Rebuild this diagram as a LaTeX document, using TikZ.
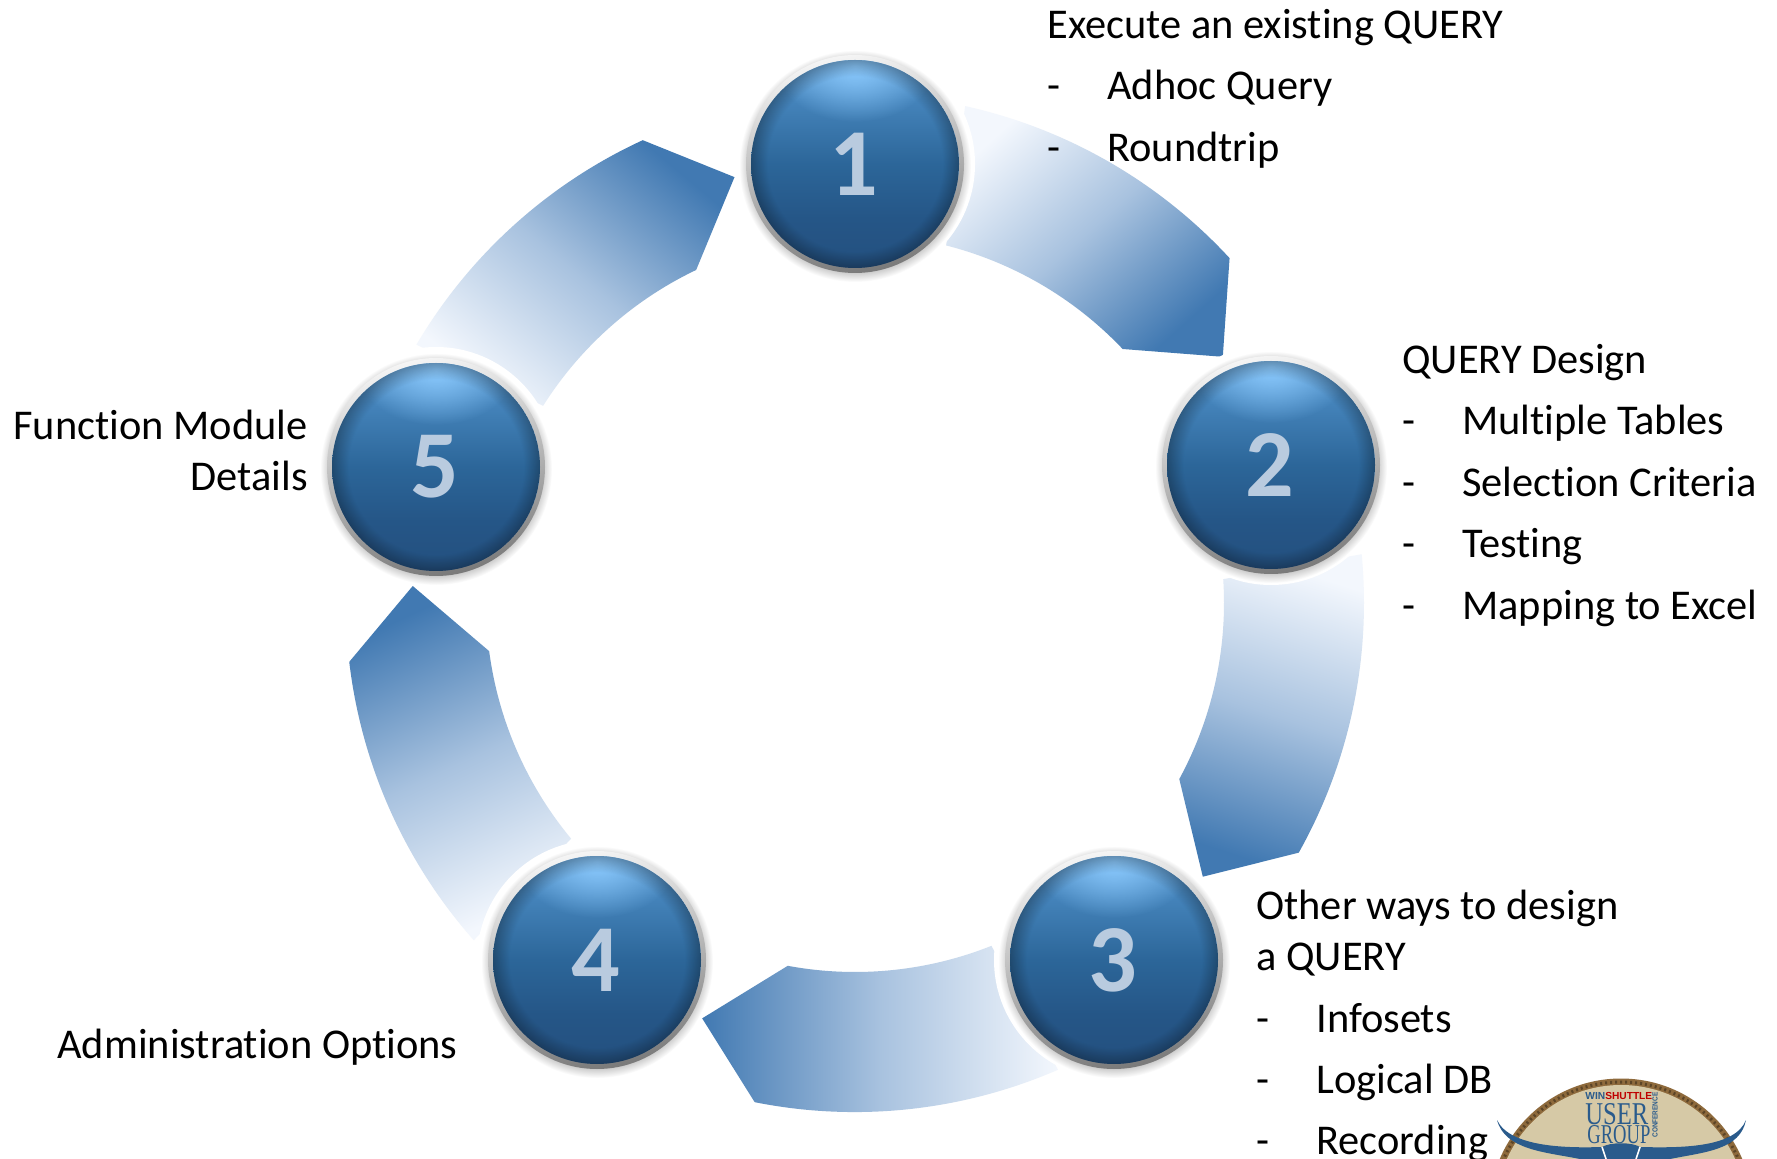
\documentclass[tikz,border=0pt]{standalone}
\usepackage{fontspec}
\setmainfont[Ligatures=NoCommon]{Carlito}
\newfontfamily\logoserif{Liberation Serif}
\newfontfamily\logosans{Liberation Sans}
\usetikzlibrary{fadings,shadings}
\definecolor{arrowdark}{HTML}{4179B2}
\definecolor{arrowmid}{HTML}{A8C2DF}
\definecolor{arrowlight}{HTML}{F3F7FD}
\definecolor{digit}{HTML}{B9CBDF}
\definecolor{logoblue}{HTML}{2A5B8C}
\definecolor{logotan}{HTML}{D6C9A6}
\definecolor{rope}{HTML}{8E6A3C}
\definecolor{ba}{HTML}{24507F}
\definecolor{bb}{HTML}{255687}
\definecolor{bc}{HTML}{2C6699}
\definecolor{bd}{HTML}{4483BA}
\definecolor{be}{HTML}{5C9BD2}
\definecolor{highlight}{HTML}{8CCBFF}
\definecolor{ra}{HTML}{7A7A7A}
\definecolor{rb}{HTML}{B8B8B8}
\definecolor{rc}{HTML}{F4F4F4}
\definecolor{glowc}{HTML}{9A9A9A}
\pgfdeclareverticalshading{ballshade}{100bp}{
  color(0bp)=(ba);
  color(25bp)=(ba);
  color(37bp)=(bb);
  color(50bp)=(bc);
  color(65bp)=(bd);
  color(75bp)=(be);
  color(100bp)=(be)}
\pgfdeclareverticalshading{rimshade}{100bp}{
  color(0bp)=(ra);
  color(25bp)=(ra);
  color(50bp)=(rb);
  color(75bp)=(rc);
  color(100bp)=(rc)}
\pgfdeclareradialshading{glowshade}{\pgfpoint{0bp}{0bp}}{
  color(0bp)=(glowc);
  color(21bp)=(glowc);
  color(25bp)=(white);
  color(50bp)=(white)}
\pgfdeclareradialshading{edgeshade}{\pgfpoint{0bp}{0bp}}{
  color(0bp)=(pgftransparent!100);
  color(21bp)=(pgftransparent!100);
  color(25bp)=(pgftransparent!72);
  color(50bp)=(pgftransparent!72)}
\pgfdeclarefading{edgefade}{\pgfuseshading{edgeshade}}
\tikzfading[name=hlfade, inner color=transparent!0, outer color=transparent!100]
\tikzset{
  x=0.5pt, y=0.5pt,
  bodytext/.style={anchor=base west, inner sep=0pt, font=\fontsize{21.2}{25}\selectfont, text=black},
  bodyright/.style={bodytext, anchor=base east},
  halo/.style={circle, minimum size=120pt, inner sep=0pt, fill=white},
  ballshadow/.style={circle, minimum size=116pt, inner sep=0pt, shading=glowshade},
  rim/.style={circle, minimum size=109pt, inner sep=0pt, shading=rimshade, shading angle=12},
  ball/.style={circle, minimum size=104pt, inner sep=0pt, shading=ballshade},
  numeral/.style={inner sep=0pt, font=\fontsize{48}{50}\bfseries\selectfont, text=digit},
  ringarrow/.style={top color=arrowlight, bottom color=arrowdark, middle color=arrowmid, draw=none}
}
\newcommand{\ringarrow}[2]{% rotation, shading angle
  \begin{scope}[shift={(855,-603)}, rotate=#1]
    \path[ringarrow, shading angle=#2]
      (77.5:509) arc[start angle=77.5, end angle=42.7, radius=510]
      -- (33.8:442.6) -- (43.5:369)
      arc[start angle=43.5, end angle=75.7, radius=369] -- cycle;
  \end{scope}}
\newcommand{\sphere}[3]{% name, position, number
  \node[halo] at (#2) {};
  \node[ballshadow] at ([yshift=-1pt]#2) {};
  \node[rim] at (#2) {};
  \node[ball] (#1) at (#2) {};
  \begin{scope}
    \clip (#2) circle[radius=104];
    \fill[path fading=hlfade, fill=highlight] ([yshift=49pt]#2) ellipse[x radius=80, y radius=56];
    \fill[path fading=edgefade, fill=black] (#2) circle[radius=104];
  \end{scope}
  \node[numeral] at ([yshift=0pt,xshift=-.5pt]#2) {#3};
}
\begin{document}
\begin{tikzpicture}
\useasboundingbox (0,-1159) rectangle (1777,0);
\clip (0,-1159) rectangle (1777,0);
\fill[white] (0,-1159) rectangle (1777,0);
% arrows
\ringarrow{0}{42}
\ringarrow{-72}{-18}
\ringarrow{-144}{-90}
\ringarrow{-216}{205}
\ringarrow{-288}{140}
% spheres
\sphere{n1}{855,-164}{1}
\sphere{n2}{1271,-465}{2}
\sphere{n3}{1114,-960}{3}
\sphere{n4}{597,-960}{4}
\sphere{n5}{436,-467}{5}
% texts
\node[bodytext] (t1a) at (1047,-39) {Execute an existing QUERY};
\node[bodytext] (t1b) at (1047,-100) {\makebox[30pt][l]{-}Adhoc Query};
\node[bodytext] (t1c) at (1047,-162) {\makebox[30pt][l]{-}Roundtrip};
\node[bodytext] (t2a) at (1402,-374) {QUERY Design};
\node[bodytext] (t2b) at (1402,-435) {\makebox[30pt][l]{-}Multiple Tables};
\node[bodytext] (t2c) at (1402,-497) {\makebox[30pt][l]{-}Selection Criteria};
\node[bodytext] (t2d) at (1402,-558) {\makebox[30pt][l]{-}Testing};
\node[bodytext] (t2e) at (1402,-620) {\makebox[30pt][l]{-}Mapping to Excel};
\node[bodytext] (t3a) at (1256,-919) {Other ways to design};
\node[bodytext] (t3b) at (1256,-970) {a QUERY};
\node[bodytext] (t3c) at (1256,-1032) {\makebox[30pt][l]{-}Infosets};
\node[bodytext] (t3d) at (1256,-1093) {\makebox[30pt][l]{-}Logical DB};
\node[bodytext] (t3e) at (1256,-1154) {\makebox[30pt][l]{-}Recording};
\node[bodytext] (t4a) at (57,-1058) {Administration Options};
\node[bodyright] (t5a) at (308,-440) {Function Module};
\node[bodyright] (t5b) at (308,-491) {Details};
% logo
\fill[rope] (1621,-1210) circle[radius=131.5];
\fill[logotan] (1621,-1210) circle[radius=125];
\draw[black!35!rope, line width=1.5pt, dash pattern=on 1pt off 1.5pt] (1621,-1210) circle[radius=128];
\fill[logoblue] (1497,-1120) .. controls (1510,-1148) and (1570,-1148) .. (1602,-1147)
  .. controls (1610,-1142) and (1632,-1142) .. (1640,-1147)
  .. controls (1680,-1148) and (1735,-1148) .. (1746,-1120)
  .. controls (1740,-1150) and (1705,-1152) .. (1670,-1159) -- (1580,-1159)
  .. controls (1545,-1152) and (1505,-1150) .. (1497,-1120) -- cycle;
\draw[white, line width=.8pt] (1602,-1147) -- (1606,-1159);
\draw[white, line width=.8pt] (1640,-1147) -- (1636,-1159);
\node[anchor=base west, inner sep=0pt, font=\logosans\bfseries\fontsize{5.1}{6}\selectfont] (lg1) at (1585,-1099) {\textcolor{logoblue}{WIN}\textcolor{red!75!black}{SHUTTLE}};
\node[anchor=base west, inner sep=0pt, text=logoblue, font=\logoserif] (lg2) at (1585,-1124) {\resizebox{31.5pt}{10.5pt}{USER}};
\node[anchor=base west, inner sep=0pt, text=logoblue, font=\logoserif] (lg3) at (1587,-1143) {\resizebox{31.5pt}{9pt}{GROUP}};
\node[anchor=center, inner sep=0pt, text=logoblue, rotate=90, font=\logosans\bfseries] (lg4) at (1655,-1115) {\resizebox{22.5pt}{2.6pt}{CONFERENCE}};
\end{tikzpicture}
\end{document}
